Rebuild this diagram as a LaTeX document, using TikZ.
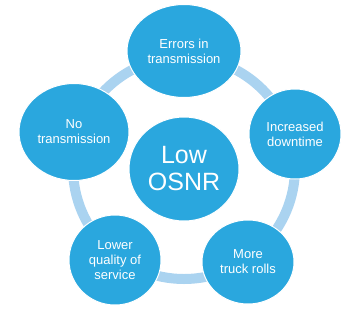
\documentclass[tikz,border=0pt]{standalone}
\usepackage{fontspec}
\setmainfont{Liberation Sans}
\usetikzlibrary{shapes.geometric,backgrounds}

\definecolor{bubblue}{HTML}{2AA7DE}
\definecolor{ringblue}{HTML}{AAD3F0}

\begin{document}
\begin{tikzpicture}[
  x=1pt, y=-1pt,
  bubble/.style={ellipse, fill=bubblue, draw=white, line width=1pt,
                 text=white, align=center, inner sep=0pt,
                 font=\fontsize{13}{15}\selectfont},
  hub/.style={bubble, font=\fontsize{25}{27}\selectfont},
  ring/.style={draw=ringblue, line width=10pt},
]
\useasboundingbox (0,0) rectangle (363,314);

% centre and the five consequences round it
\node[hub, minimum width=110pt, minimum height=104pt]    (osnr)     at (184,169) {Low\\OSNR};
\node[bubble, minimum width=114pt, minimum height=93pt]  (errors)   at (184,51)  {Errors in\\transmission};
\node[bubble, minimum width=92pt, minimum height=90pt]   (downtime) at (295,134) {Increased\\downtime};
\node[bubble, minimum width=92pt, minimum height=84pt]   (trucks)   at (248,262) {More\\truck rolls};
\node[bubble, minimum width=92pt, minimum height=90pt]   (quality)  at (115,260) {Lower\\quality of\\service};
\node[bubble, minimum width=110pt, minimum height=97pt]  (notx)     at (74,132)  {No\\transmission};

% ring behind the outer bubbles
\begin{scope}[on background layer]
  \draw[ring] (osnr.center) ++(0,-1) circle (111);
\end{scope}
\end{tikzpicture}
\end{document}
